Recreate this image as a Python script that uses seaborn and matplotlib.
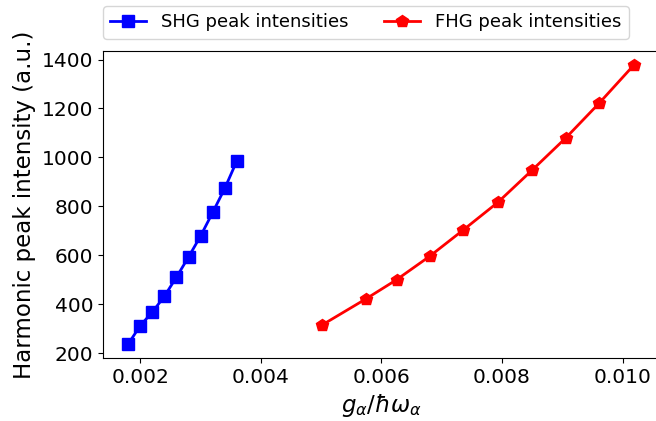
import matplotlib
matplotlib.use("Agg")
import matplotlib.pyplot as plt
import seaborn as sns

# SHG series (blue squares)
shg_g = [0.0018, 0.0020, 0.0022, 0.0024, 0.0026, 0.0028, 0.0030, 0.0032, 0.0034, 0.0036]
shg_int = [238, 313, 368, 433, 511, 593, 679, 775, 873, 985]

# FHG series (red pentagons)
fhg_g = [0.00502, 0.00575, 0.00625, 0.00680, 0.00735, 0.00793, 0.00850, 0.00906, 0.00961, 0.01019]
fhg_int = [316, 423, 500, 596, 702, 816, 948, 1080, 1221, 1378]

fig = plt.figure(figsize=(6.56, 4.21), dpi=100)
ax = fig.add_axes([0.157, 0.150, 0.848, 0.729])

sns.lineplot(x=shg_g, y=shg_int, ax=ax, color="b", marker="s", markersize=8,
             mec="b", mew=1, linewidth=2, label="SHG peak intensities")
sns.lineplot(x=fhg_g, y=fhg_int, ax=ax, color="r", marker="p", markersize=9,
             mec="r", mew=1, linewidth=2, label="FHG peak intensities")

ax.set_xticks([0.002, 0.004, 0.006, 0.008, 0.010])
ax.set_yticks([200, 400, 600, 800, 1000, 1200, 1400])
ax.tick_params(labelsize=14.5)
ax.set_xlabel(r"$g_{\alpha}/\hbar\omega_{\alpha}$", fontsize=16.5)
ax.set_ylabel("Harmonic peak intensity (a.u.)", fontsize=16.5)

# legend sits above the axes
ax.legend(loc="lower left", bbox_to_anchor=(0.0, 1.04), ncol=2, fontsize=13,
          borderaxespad=0, handlelength=2, columnspacing=2.0)

fig.savefig("out.png", dpi=100)
